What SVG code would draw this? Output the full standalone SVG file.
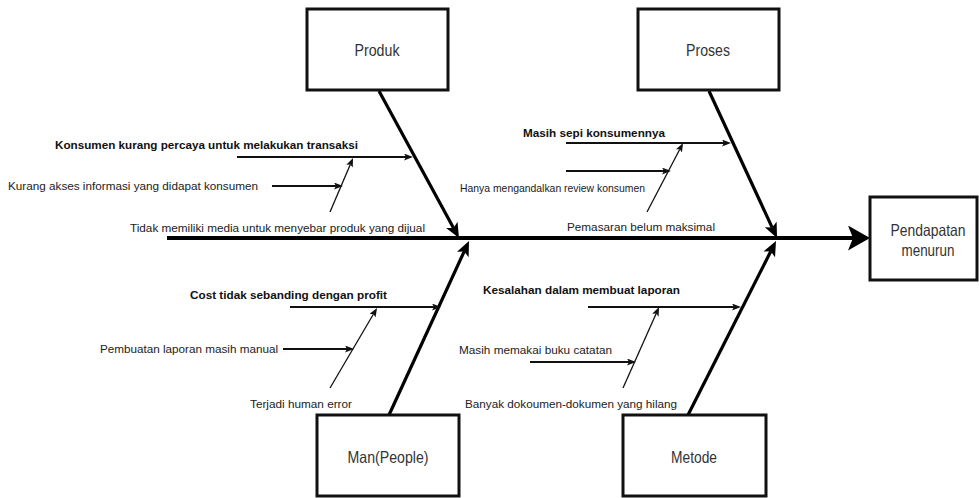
<svg xmlns="http://www.w3.org/2000/svg" width="979" height="498" viewBox="0 0 979 498">
<style>
.box{fill:#fff;stroke:#111;stroke-width:3}
.lbl{font-family:"Liberation Sans",Arial,sans-serif;font-size:16.5px;fill:#333;text-anchor:middle}
.t{font-family:"Liberation Sans",Arial,sans-serif;font-size:11.5px;fill:#222}
.b{font-weight:bold;fill:#111}
.spine{stroke:#000;stroke-width:4;fill:none}
.bone{stroke:#000;stroke-width:3.2;fill:none}
.sub{stroke:#111;stroke-width:2;fill:none}
.diag{stroke:#111;stroke-width:1.3;fill:none}
</style>
<defs>
<marker id="mSpine" markerUnits="userSpaceOnUse" markerWidth="24" markerHeight="26" refX="5" refY="12.5" orient="auto"><path d="M0,0 L22,12.5 L0,25 L5,12.5 Z" fill="#000"/></marker>
<marker id="mBone" markerUnits="userSpaceOnUse" markerWidth="16" markerHeight="14" refX="3.5" refY="6.5" orient="auto"><path d="M0,0 L15,6.5 L0,13 L3.5,6.5 Z" fill="#000"/></marker>
<marker id="mSub" markerUnits="userSpaceOnUse" markerWidth="10" markerHeight="8" refX="2" refY="3.5" orient="auto"><path d="M0,0 L9,3.5 L0,7 L2,3.5 Z" fill="#111"/></marker>
</defs>

<g id="connectors">
<line class="spine" x1="167" y1="238" x2="853" y2="238" marker-end="url(#mSpine)"/>
<line class="bone" x1="379" y1="91" x2="453.5" y2="228" marker-end="url(#mBone)"/>
<line class="bone" x1="709" y1="91" x2="772.2" y2="227.6" marker-end="url(#mBone)"/>
<line class="bone" x1="389" y1="415" x2="464.2" y2="251.4" marker-end="url(#mBone)"/>
<line class="bone" x1="688" y1="415" x2="770.8" y2="251.3" marker-end="url(#mBone)"/>
<line class="sub" x1="237" y1="157" x2="406" y2="157" marker-end="url(#mSub)"/>
<line class="sub" x1="272" y1="186" x2="336" y2="186" marker-end="url(#mSub)"/>
<line class="diag" x1="330" y1="212" x2="350.3" y2="164.4" marker-end="url(#mSub)"/>
<line class="sub" x1="566" y1="143" x2="724" y2="143" marker-end="url(#mSub)"/>
<line class="sub" x1="566" y1="171" x2="664" y2="171" marker-end="url(#mSub)"/>
<line class="diag" x1="647" y1="212" x2="679.8" y2="149.2" marker-end="url(#mSub)"/>
<line class="sub" x1="290" y1="307" x2="434" y2="307" marker-end="url(#mSub)"/>
<line class="sub" x1="283" y1="349" x2="347" y2="349" marker-end="url(#mSub)"/>
<line class="diag" x1="330" y1="388" x2="373.5" y2="314" marker-end="url(#mSub)"/>
<line class="sub" x1="588" y1="307" x2="734" y2="307" marker-end="url(#mSub)"/>
<line class="sub" x1="530" y1="362" x2="629" y2="362" marker-end="url(#mSub)"/>
<line class="diag" x1="623" y1="388" x2="656.2" y2="313.4" marker-end="url(#mSub)"/>
</g>

<g id="produk">
<rect class="box" x="307" y="9" width="141" height="81"/>
<text class="lbl" x="377" y="56" textLength="45" lengthAdjust="spacingAndGlyphs">Produk</text>
</g>
<g id="proses">
<rect class="box" x="638" y="9" width="141" height="81"/>
<text class="lbl" x="708" y="56" textLength="44" lengthAdjust="spacingAndGlyphs">Proses</text>
</g>
<g id="man">
<rect class="box" x="317" y="415" width="142" height="81"/>
<text class="lbl" x="388" y="463" textLength="81" lengthAdjust="spacingAndGlyphs">Man(People)</text>
</g>
<g id="metode">
<rect class="box" x="623" y="415" width="143" height="81"/>
<text class="lbl" x="694" y="463" textLength="46" lengthAdjust="spacingAndGlyphs">Metode</text>
</g>
<g id="pendapatan">
<rect class="box" x="870" y="197" width="107" height="83"/>
<text class="lbl" x="928" y="236" textLength="75" lengthAdjust="spacingAndGlyphs">Pendapatan</text>
<text class="lbl" x="928" y="256" textLength="53" lengthAdjust="spacingAndGlyphs">menurun</text>
</g>

<g id="produk-causes">
<text class="t b" x="55" y="149" textLength="303" lengthAdjust="spacingAndGlyphs">Konsumen kurang percaya untuk melakukan transaksi</text>
<text class="t" x="8" y="190" textLength="250" lengthAdjust="spacingAndGlyphs">Kurang akses informasi yang didapat konsumen</text>
<text class="t" x="130" y="232" textLength="295" lengthAdjust="spacingAndGlyphs">Tidak memiliki media untuk menyebar produk yang dijual</text>
</g>
<g id="proses-causes">
<text class="t b" x="523" y="137" textLength="142" lengthAdjust="spacingAndGlyphs">Masih sepi konsumennya</text>
<text class="t" x="460" y="192" textLength="185" lengthAdjust="spacingAndGlyphs">Hanya mengandalkan review konsumen</text>
<text class="t" x="567" y="231" textLength="148" lengthAdjust="spacingAndGlyphs">Pemasaran belum maksimal</text>
</g>
<g id="man-causes">
<text class="t b" x="190" y="299" textLength="197" lengthAdjust="spacingAndGlyphs">Cost tidak sebanding dengan profit</text>
<text class="t" x="100" y="353" textLength="178" lengthAdjust="spacingAndGlyphs">Pembuatan laporan masih manual</text>
<text class="t" x="250" y="408" textLength="102" lengthAdjust="spacingAndGlyphs">Terjadi human error</text>
</g>
<g id="metode-causes">
<text class="t b" x="483" y="294" textLength="197" lengthAdjust="spacingAndGlyphs">Kesalahan dalam membuat laporan</text>
<text class="t" x="459" y="354" textLength="153" lengthAdjust="spacingAndGlyphs">Masih memakai buku catatan</text>
<text class="t" x="465" y="408" textLength="212" lengthAdjust="spacingAndGlyphs">Banyak dokoumen-dokumen yang hilang</text>
</g>
</svg>
